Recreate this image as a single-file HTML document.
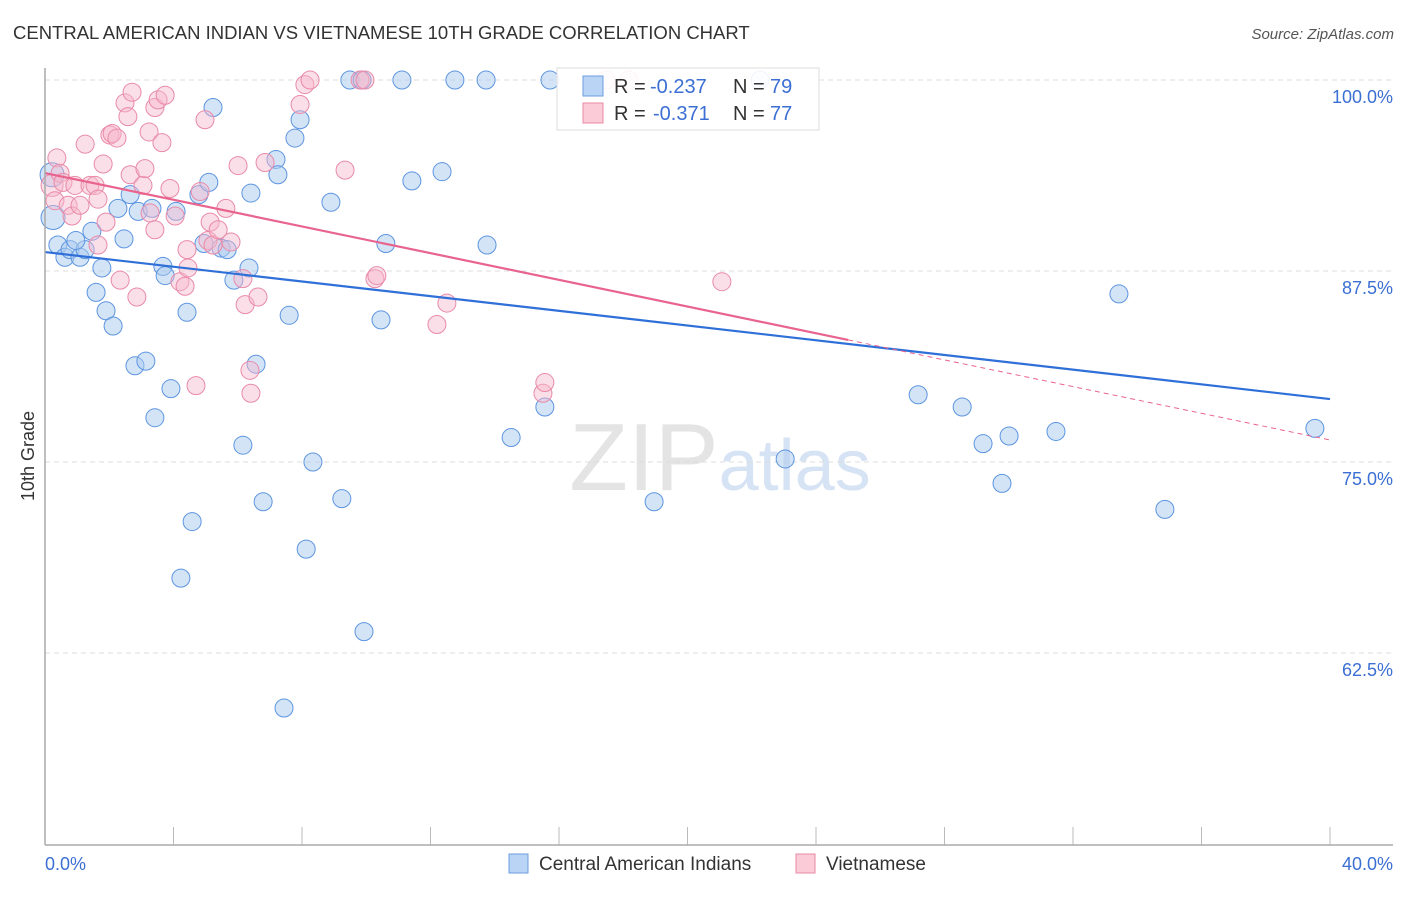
<!DOCTYPE html>
<html><head><meta charset="utf-8"><style>
body{margin:0;background:#fff;font-family:"Liberation Sans",sans-serif;}
svg text{font-family:"Liberation Sans",sans-serif;}
</style></head><body>
<svg id="chart" width="1406" height="892" viewBox="0 0 1406 892" xmlns="http://www.w3.org/2000/svg">
<text x="13" y="39" font-size="18.5" fill="#333">CENTRAL AMERICAN INDIAN VS VIETNAMESE 10TH GRADE CORRELATION CHART</text>
<text x="1394" y="39" font-size="15" fill="#555" text-anchor="end" font-style="italic">Source: ZipAtlas.com</text>
<text x="720" y="490" font-size="96" text-anchor="middle" fill="#e4e4e4" font-family="Liberation Serif, serif">ZIP<tspan fill="#d6e3f4" font-family="Liberation Sans, sans-serif" font-size="72">atlas</tspan></text>
<text transform="translate(34,456) rotate(-90)" font-size="18" fill="#333" text-anchor="middle">10th Grade</text>
<g id="grid"></g>
<g id="marks"></g>
<g id="lines"></g>
<line x1="45" y1="68" x2="45" y2="845" stroke="#aaa" stroke-width="1.5"/>
<line x1="45" y1="845" x2="1393" y2="845" stroke="#aaa" stroke-width="1.5"/>
<text x="45" y="870" font-size="18" fill="#3b6fd4">0.0%</text>
<text x="1393" y="870" font-size="18" fill="#3b6fd4" text-anchor="end">40.0%</text>
<g>
<rect x="509" y="854" width="19" height="19" fill="#b9d4f5" stroke="#6b9ee0"/>
<text x="539" y="870" font-size="19" fill="#333">Central American Indians</text>
<rect x="796" y="854" width="19" height="19" fill="#fbcbd8" stroke="#e88aa6"/>
<text x="826" y="870" font-size="19" fill="#333">Vietnamese</text>
</g>
<g>
<rect x="557" y="68" width="262" height="62" fill="#fff" fill-opacity="0.9" stroke="#ddd"/>
<rect x="583" y="76" width="20" height="20" fill="#b9d4f5" stroke="#6b9ee0"/>
<rect x="583" y="103" width="20" height="20" fill="#fbcbd8" stroke="#e88aa6"/>
<text x="614" y="93" font-size="20" fill="#333">R =</text>
<text x="650" y="93" font-size="20" fill="#3b6fd4">-0.237</text>
<text x="733" y="93" font-size="20" fill="#333">N =</text>
<text x="770" y="93" font-size="20" fill="#3b6fd4">79</text>
<text x="614" y="120" font-size="20" fill="#333">R =</text>
<text x="653" y="120" font-size="20" fill="#3b6fd4">-0.371</text>
<text x="733" y="120" font-size="20" fill="#333">N =</text>
<text x="770" y="120" font-size="20" fill="#3b6fd4">77</text>
</g>
</svg>
<script>
const yTicks=[100,87.5,75,62.5];
const yTickLabels=["100.0%","87.5%","75.0%","62.5%"];
const xTicks=[0,4,8,12,16,20,24,28,32,36,40];
const blueX=[0.22,0.25,0.4,0.62,0.78,1.09,1.25,0.96,1.46,1.77,1.59,1.9,2.12,2.27,2.46,2.65,2.8,3.14,2.9,3.33,3.42,3.67,3.74,3.92,4.08,4.42,4.23,4.58,4.79,5.1,4.95,5.23,5.48,5.67,5.88,6.35,6.41,6.16,6.57,6.79,7.19,7.25,7.6,7.78,7.94,7.44,8.13,8.34,8.9,9.24,9.49,9.93,9.87,10.46,10.61,11.11,11.42,12.36,12.76,13.73,13.76,14.51,15.56,15.72,18.96,23.04,22.26,27.18,28.55,29.2,29.79,30.01,31.47,33.43,34.86,39.53];
const blueY=[93.8,91.0,89.2,88.4,88.9,88.4,88.9,89.5,90.1,87.7,86.1,84.9,83.9,91.6,89.6,92.5,81.3,81.6,91.4,91.6,77.9,87.8,87.2,79.8,91.4,84.8,67.4,71.1,92.5,93.3,89.3,98.2,89.0,88.9,86.9,87.7,92.6,76.1,81.4,72.4,94.8,93.8,84.6,96.2,97.4,58.9,69.3,75.0,92.0,72.6,100,63.9,100,84.3,89.3,100,93.4,94.0,100,100,89.2,76.6,78.6,100,72.4,75.2,100,79.4,78.6,76.2,73.6,76.7,77.0,86.0,71.9,77.2];
const pinkX=[0.22,0.31,0.37,0.47,0.56,0.72,0.84,0.93,1.09,1.25,1.4,1.56,1.65,1.65,1.81,1.9,2.02,2.09,2.24,2.34,2.49,2.58,2.71,2.65,2.86,3.05,3.11,3.24,3.27,3.42,3.42,3.52,3.64,3.74,3.89,4.05,4.2,4.36,4.42,4.45,4.7,4.83,4.98,5.14,5.07,5.23,5.39,5.63,5.79,6.01,6.16,6.23,6.38,6.41,6.63,6.85,7.94,8.09,8.25,9.34,9.81,9.96,10.27,10.33,12.2,12.51,15.5,15.56,17.46,18.18,21.07];
const pinkY=[93.1,92.1,94.9,93.9,93.3,91.8,91.1,93.1,91.8,95.8,93.1,93.1,92.2,89.2,94.5,90.7,96.4,96.5,96.2,86.9,98.5,97.6,99.2,93.8,85.8,93.1,94.2,96.6,91.3,90.2,98.2,98.7,95.9,99.0,92.9,91.1,86.8,86.5,88.9,87.7,80.0,92.7,97.4,90.7,89.5,89.2,90.2,91.6,89.4,94.4,87.0,85.3,81.0,79.5,85.8,94.6,98.4,99.7,100,94.1,100,100,87.0,87.2,84.0,85.4,79.5,80.2,100,100,86.8];
const blueTrend=[88.74,79.12];
const pinkTrend=[93.91,76.44];
const NS="http://www.w3.org/2000/svg";
const X0=45,X1=1330,Y100=80,PPU=15.28;
function sx(v){return X0+(v/40)*(X1-X0);}
function sy(v){return Y100+(100-v)*PPU;}
function mk(t,a,p){const e=document.createElementNS(NS,t);for(const k in a)e.setAttribute(k,a[k]);p.appendChild(e);return e;}
const grid=document.getElementById('grid'),marks=document.getElementById('marks'),lines=document.getElementById('lines');
yTicks.forEach((v,i)=>{
 const l=mk('line',{x1:45,x2:1393,y1:sy(v),y2:sy(v),stroke:'#ddd','stroke-dasharray':'5,4'},grid);
 
 
 const t=mk('text',{x:1393,y:sy(v)+23,'font-size':18,fill:'#3b6fd4','text-anchor':'end'},grid);
 t.textContent=yTickLabels[i];
 
 
});
xTicks.forEach(v=>{
 const l=mk('line',{x1:sx(v),x2:sx(v),y1:827,y2:845,stroke:'#bbb'},grid);
 
 
});
blueX.forEach((x,i)=>{
 const c=mk('circle',{cx:sx(x),cy:sy(blueY[i]),r:(i<2?12:9),fill:'#a9c9f0','fill-opacity':0.5,stroke:'#5d95e0','stroke-width':1},marks);
 
 
});
pinkX.forEach((x,i)=>{
 const c=mk('circle',{cx:sx(x),cy:sy(pinkY[i]),r:(i<1?11:9),fill:'#f7b8cb','fill-opacity':0.45,stroke:'#e98aa8','stroke-width':1},marks);
 
 
});
const bl=mk('line',{x1:sx(0),y1:sy(blueTrend[0]),x2:sx(40),y2:sy(blueTrend[1]),stroke:'#2f6fd8','stroke-width':2.2},lines);


const pm=pinkTrend[0]+(pinkTrend[1]-pinkTrend[0])*25/40;
const pl=mk('line',{x1:sx(0),y1:sy(pinkTrend[0]),x2:sx(25),y2:sy(pm),stroke:'#e8648e','stroke-width':2.2},lines);


const pd=mk('line',{x1:sx(25),y1:sy(pm),x2:sx(40),y2:sy(pinkTrend[1]),stroke:'#e8648e','stroke-width':1,'stroke-dasharray':'5,4'},lines);


</script>
</body></html>
